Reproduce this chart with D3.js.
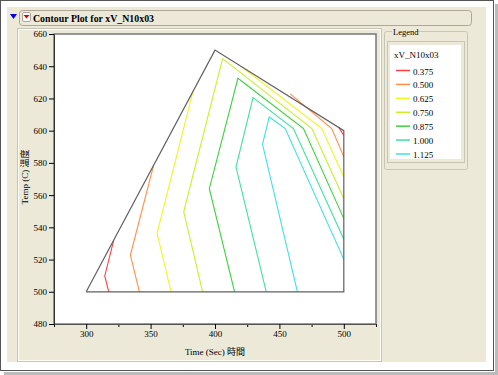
<!DOCTYPE html>
<html>
<head>
<meta charset="utf-8">
<style>
    body { margin: 0; background: #fff; }
    .tick text { font-family: "Liberation Serif", serif; font-size: 9px; fill: #000; }
    .contour { fill: none; stroke-width: 1.1px; }
</style>
</head>
<body>
<script src="https://cdn.jsdelivr.net/npm/d3@7/dist/d3.min.js"></script>
<script>
// Contour levels and their colours
var levels = [0.375, 0.500, 0.625, 0.750, 0.875, 1.000, 1.125];
var levelLabels = ["0.375", "0.500", "0.625", "0.750", "0.875", "1.000", "1.125"];
var levelColors = ["#ff4040", "#ff9048", "#f4f420", "#c8f028", "#40d040", "#40e0a0", "#40e0e0"];

// Outline of the data region (time, temp)
var boundary = [[300, 500], [400, 650], [500, 600], [500, 500], [300, 500]];

// Contour paths, one list of pieces per level (time, temp)
var contour0375 = [[[321.4, 532], [314.4, 509.8], [317.5, 500]], [[496, 602.2], [500, 597]]];
var contour0500 = [[[341.3, 500], [334.3, 522.8], [352.4, 578.6]], [[458.4, 622.8], [490.6, 601.3], [500, 583.9]]];
var contour0625 = [[[365.9, 500], [355, 536.3], [383, 624.5]], [[420.9, 639.5], [482.9, 601.3], [500, 571.2]]];
var contour0750 = [[[390.4, 500], [375.7, 549.6], [405.9, 644.7], [475.2, 601.3], [500, 557.8]]];
var contour0875 = [[[415.2, 500], [395.6, 564], [417.8, 632.5], [468.7, 601.3], [500, 545.4]]];
var contour1000 = [[[439.8, 500], [416.3, 577.4], [429.5, 620.5], [460.9, 601.3], [500, 532.6]]];
var contour1125 = [[[464, 500], [436.9, 591.5], [442.1, 608.5], [454.5, 601.3], [500, 520.1]]];
var contours = [contour0375, contour0500, contour0625, contour0750, contour0875, contour1000, contour1125];

var xMajorTicks = [300, 350, 400, 450, 500];
var xMinorTicks = [275, 325, 375, 425, 475, 525];
var yTicks = [480, 500, 520, 540, 560, 580, 600, 620, 640, 660];

var W = 498, H = 375;
var svg = d3.select("body").append("svg")
    .attr("width", W)
    .attr("height", H);

// picture frame with drop shadow
svg.append("rect").attr("x", 495).attr("y", 4).attr("width", 3).attr("height", 371).attr("fill", "#bbb");
svg.append("rect").attr("x", 4).attr("y", 372).attr("width", 494).attr("height", 3).attr("fill", "#bbb");
svg.append("rect").attr("x", 0.5).attr("y", 0.5).attr("width", 493).attr("height", 370)
    .attr("fill", "#fff").attr("stroke", "#555");

// window background
svg.append("rect").attr("x", 7).attr("y", 7).attr("width", 479).attr("height", 355).attr("fill", "#ece9d8");

// title bar
svg.append("rect").attr("x", 19.5).attr("y", 10.5).attr("width", 452).attr("height", 15).attr("rx", 3)
    .attr("fill", "#ece9d8").attr("stroke", "#aca899");
svg.append("path").attr("d", "M10,14 L17,14 L13.5,19 Z").attr("fill", "#0000e0");
svg.append("rect").attr("x", 22.5).attr("y", 12.5).attr("width", 8).attr("height", 9).attr("rx", 1.5)
    .attr("fill", "#fff").attr("stroke", "#aca899");
svg.append("path").attr("d", "M23.5,15 L29.5,15 L26.5,18.5 Z").attr("fill", "#e00000");
svg.append("text")
    .attr("x", 33).attr("y", 22)
    .attr("textLength", 121)
    .attr("lengthAdjust", "spacingAndGlyphs")
    .style("font-family", "'Liberation Serif', serif")
    .style("font-weight", "bold")
    .style("font-size", "11px")
    .text("Contour Plot for xV_N10x03");

// report panel
svg.append("rect").attr("x", 17.5).attr("y", 28.5).attr("width", 364).attr("height", 333)
    .attr("fill", "none").attr("stroke", "#c9c5b2");
svg.append("rect").attr("x", 18.5).attr("y", 29.5).attr("width", 362).attr("height", 331)
    .attr("fill", "none").attr("stroke", "#fdfdf8");

// scales
var x = d3.scaleLinear().domain([275, 525]).range([54, 376]);
var y = d3.scaleLinear().domain([480, 660]).range([324, 34]);

// plot frame
svg.append("rect")
    .attr("x", x(275)).attr("y", y(660))
    .attr("width", x(525) - x(275)).attr("height", y(480) - y(660))
    .attr("fill", "#fff").attr("stroke", "#777").attr("stroke-width", 1.5);

var line = d3.line()
    .x(function (d) { return x(d[0]); })
    .y(function (d) { return y(d[1]); });

// contour lines
contours.forEach(function (pieces, i) {
    pieces.forEach(function (piece) {
        svg.append("path")
            .datum(piece)
            .attr("class", "contour")
            .attr("stroke", levelColors[i])
            .attr("d", line);
    });
});

// boundary of data
svg.append("path")
    .datum(boundary)
    .attr("fill", "none")
    .attr("stroke", "#606060")
    .attr("stroke-width", 1.2)
    .attr("d", line);

// y axis
var yAxis = svg.append("g")
    .attr("transform", "translate(" + x(275) + ",0)")
    .call(d3.axisLeft(y).tickValues(yTicks).tickSize(5).tickSizeOuter(0).tickPadding(2));
yAxis.select(".domain").attr("stroke", "#333");

// x axis: minor then major ticks
svg.append("g")
    .attr("transform", "translate(0," + y(480) + ")")
    .call(d3.axisBottom(x).tickValues(xMinorTicks).tickSize(3).tickSizeOuter(0).tickFormat(""))
    .select(".domain").remove();
var xAxis = svg.append("g")
    .attr("transform", "translate(0," + y(480) + ")")
    .call(d3.axisBottom(x).tickValues(xMajorTicks).tickSize(5).tickSizeOuter(0).tickPadding(2));
xAxis.select(".domain").attr("stroke", "#555");

// axis titles
svg.append("text")
    .attr("x", 215).attr("y", 355)
    .attr("text-anchor", "middle")
    .style("font-family", "'Liberation Serif', 'Noto Sans CJK TC', serif")
    .style("font-size", "9px")
    .text("Time (Sec) 時間");

svg.append("text")
    .attr("transform", "translate(28,177) rotate(-90)")
    .attr("text-anchor", "middle")
    .style("font-family", "'Liberation Serif', 'Noto Sans CJK TC', serif")
    .style("font-size", "9px")
    .text("Temp (C) 溫度");

// legend panel
svg.append("rect").attr("x", 384.5).attr("y", 31.5).attr("width", 83).attr("height", 138).attr("rx", 2)
    .attr("fill", "none").attr("stroke", "#c9c5b2");
svg.append("rect").attr("x", 392).attr("y", 28).attr("width", 24).attr("height", 8).attr("fill", "#ece9d8");
svg.append("text")
    .attr("x", 393).attr("y", 35)
    .style("font-family", "'Liberation Serif', serif")
    .style("font-size", "8.5px")
    .text("Legend");
svg.append("rect").attr("x", 387.5).attr("y", 41.5).attr("width", 77).attr("height", 121)
    .attr("fill", "none").attr("stroke", "#c9c5b2");
svg.append("rect").attr("x", 390).attr("y", 45).attr("width", 71).attr("height", 114).attr("fill", "#fff");
svg.append("text")
    .attr("x", 394).attr("y", 58)
    .style("font-family", "'Liberation Serif', serif")
    .style("font-size", "9px")
    .text("xV_N10x03");

var legendY = d3.scalePoint().domain(levelLabels).range([70.5, 154]);
var entries = svg.selectAll(".entry")
    .data(levelLabels)
    .enter().append("g")
    .attr("class", "entry")
    .attr("transform", function (d) { return "translate(0," + legendY(d) + ")"; });
entries.append("line")
    .attr("x1", 396).attr("x2", 410)
    .attr("stroke", function (d, i) { return levelColors[i]; })
    .attr("stroke-width", 1.5);
entries.append("text")
    .attr("x", 413).attr("y", 4)
    .style("font-family", "'Liberation Serif', serif")
    .style("font-size", "9px")
    .text(function (d) { return d; });
</script>
</body>
</html>
